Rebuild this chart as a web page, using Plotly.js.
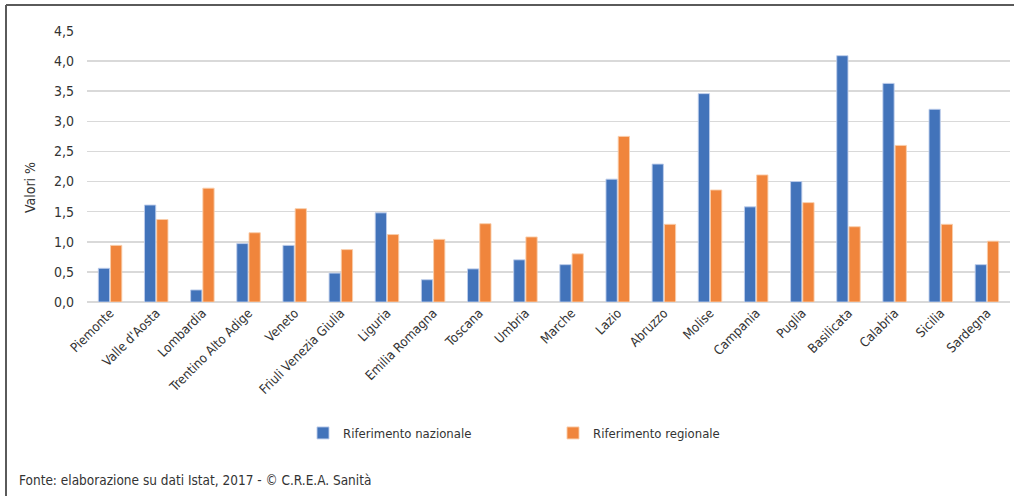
<!DOCTYPE html>
<html>
<head>
<meta charset="utf-8">
<script src="https://cdn.plot.ly/plotly-3.0.1.min.js"></script>
<style>
  html, body { margin: 0; padding: 0; background: #fff; }
  #chart { width: 1014px; height: 496px; }
</style>
</head>
<body>
<div id="chart"></div>
<script>
const regions = ["Piemonte", "Valle d'Aosta", "Lombardia", "Trentino Alto Adige", "Veneto",
  "Friuli Venezia Giulia", "Liguria", "Emilia Romagna", "Toscana", "Umbria", "Marche",
  "Lazio", "Abruzzo", "Molise", "Campania", "Puglia", "Basilicata", "Calabria", "Sicilia", "Sardegna"];
const nazionale = [0.56, 1.61, 0.20, 0.97, 0.94, 0.48, 1.48, 0.37, 0.55, 0.70, 0.62,
  2.04, 2.29, 3.46, 1.58, 2.00, 4.09, 3.63, 3.20, 0.62];
const regionale = [0.94, 1.37, 1.89, 1.15, 1.55, 0.87, 1.12, 1.04, 1.30, 1.08, 0.80,
  2.75, 1.29, 1.86, 2.11, 1.65, 1.25, 2.60, 1.29, 1.01];
const seriesNames = ["Riferimento nazionale", "Riferimento regionale"];
const yTicks = [0, 0.5, 1, 1.5, 2, 2.5, 3, 3.5, 4, 4.5];

const FONT = '"Liberation Sans Narrow", "Arial Narrow", "DejaVu Sans Condensed", Arial, sans-serif';
const TXT = '#333333';

const traces = [
  { type: 'bar', name: seriesNames[0], x: regions, y: nazionale,
    marker: { color: '#4273ba', line: { color: 'rgba(190,205,235,0.9)', width: 1 } },
    hoverinfo: 'x+y' },
  { type: 'bar', name: seriesNames[1], x: regions, y: regionale,
    marker: { color: '#f0853c', line: { color: 'rgba(250,205,170,0.9)', width: 1 } },
    hoverinfo: 'x+y' }
];

// plot area: x 87..1010, y 31..302
const L = 87, R = 1010, T = 31, B = 302, W = 1014, H = 496;
const px = v => (v - L) / (R - L);
const py = v => (B - v) / (B - T);

const layout = {
  width: W, height: H,
  margin: { l: L, r: W - R, t: T, b: H - B, pad: 0 },
  paper_bgcolor: '#ffffff', plot_bgcolor: '#ffffff',
  separators: ',.',
  font: { family: FONT, color: TXT, size: 12 },
  barmode: 'group',
  bargap: 0.47,
  bargroupgap: 0.08,
  showlegend: true,
  legend: {
    orientation: 'h', x: px(303), xanchor: 'left', y: py(433), yanchor: 'middle',
    font: { family: FONT, size: 13, color: TXT },
    entrywidth: 205, entrywidthmode: 'pixels',
    bgcolor: 'rgba(0,0,0,0)', borderwidth: 0
  },
  xaxis: {
    type: 'category',
    tickangle: -45,
    tickfont: { family: FONT, size: 13, color: TXT },
    showgrid: false, showline: false, ticks: '',
    zeroline: false, automargin: false
  },
  yaxis: {
    range: [0, 4.5],
    tickvals: yTicks,
    tickformat: '.1f',
    tickfont: { family: FONT, size: 14, color: TXT },
    showgrid: true, gridcolor: '#d9d9d9', gridwidth: 1.5,
    zeroline: true, zerolinecolor: '#d9d9d9', zerolinewidth: 1.5,
    showline: false, ticks: '', ticklabelstandoff: 12,
    automargin: false, fixedrange: true
  },
  annotations: [
    { text: 'Valori %', xref: 'paper', yref: 'paper', x: px(30), y: py(188),
      xanchor: 'center', yanchor: 'middle', textangle: -90, showarrow: false,
      font: { family: FONT, size: 14, color: TXT } },
    { text: 'Fonte: elaborazione su dati Istat, 2017 - © C.R.E.A. Sanità',
      xref: 'paper', yref: 'paper', x: px(17), y: py(480),
      xanchor: 'left', yanchor: 'middle', showarrow: false,
      font: { family: FONT, size: 13.5, color: TXT } }
  ],
  shapes: [
    { type: 'line', xref: 'paper', yref: 'paper', x0: px(6), x1: px(1016), y0: py(5), y1: py(5),
      line: { color: '#5a5a5a', width: 2 } },
    { type: 'line', xref: 'paper', yref: 'paper', x0: px(6), x1: px(6), y0: py(5), y1: py(500),
      line: { color: '#5a5a5a', width: 2 } }
  ]
};

Plotly.newPlot('chart', traces, layout, { displayModeBar: false, staticPlot: true });
</script>
</body>
</html>
